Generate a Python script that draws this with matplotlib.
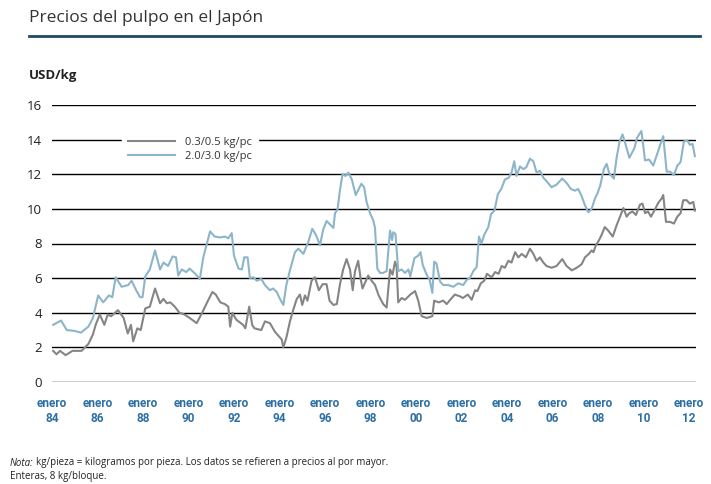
import matplotlib
matplotlib.use("Agg")
import matplotlib.pyplot as plt
from matplotlib.lines import Line2D

plt.rcParams['font.family'] = ['Open Sans', 'DejaVu Sans']

# precios mensuales (año decimal, USD/kg)
small_t = [1984.05, 1984.2, 1984.35, 1984.6, 1984.9, 1985.3, 1985.6, 1985.8, 1985.92, 1986.1,
           1986.3, 1986.45, 1986.6, 1986.9, 1987.15, 1987.33, 1987.47, 1987.57, 1987.75, 1987.9,
           1988.1, 1988.3, 1988.53, 1988.75, 1988.9, 1989.05, 1989.2, 1989.4, 1989.6, 1989.82,
           1990.05, 1990.36, 1990.6, 1990.82, 1991.05, 1991.2, 1991.4, 1991.6, 1991.75, 1991.83,
           1991.93, 1992.1, 1992.4, 1992.5, 1992.67, 1992.8, 1992.9, 1993.2, 1993.36, 1993.58,
           1993.8, 1994.1, 1994.17, 1994.3, 1994.46, 1994.6, 1994.76, 1994.9, 1995.0, 1995.12,
           1995.23, 1995.41, 1995.56, 1995.73, 1995.9, 1996.07, 1996.2, 1996.37, 1996.52, 1996.66,
           1996.8, 1996.95, 1997.1, 1997.22, 1997.32, 1997.46, 1997.57, 1997.65, 1997.9, 1998.05,
           1998.2, 1998.36, 1998.56, 1998.71, 1998.86, 1998.97, 1999.08, 1999.15, 1999.22, 1999.37,
           1999.52, 1999.75, 1999.96, 2000.1, 2000.25, 2000.47, 2000.72, 2000.8, 2001.0, 2001.2,
           2001.35, 2001.57, 2001.71, 2001.93, 2002.06, 2002.28, 2002.45, 2002.6, 2002.7, 2002.85,
           2003.0, 2003.12, 2003.33, 2003.48, 2003.63, 2003.77, 2003.91, 2004.06, 2004.2, 2004.36,
           2004.5, 2004.65, 2004.83, 2005.01, 2005.16, 2005.3, 2005.45, 2005.6, 2005.74, 2005.96,
           2006.18, 2006.43, 2006.62, 2006.85, 2007.07, 2007.28, 2007.43, 2007.6, 2007.72, 2007.8,
           2007.91, 2008.05, 2008.16, 2008.3, 2008.45, 2008.65, 2008.82, 2008.97, 2009.12, 2009.26,
           2009.38, 2009.52, 2009.67, 2009.85, 2009.96, 2010.07, 2010.2, 2010.33, 2010.5, 2010.65,
           2010.8, 2010.87, 2010.99, 2011.17, 2011.34, 2011.49, 2011.63, 2011.75, 2011.9, 2012.04,
           2012.19, 2012.26]
small_v = [1.8, 1.6, 1.8, 1.55, 1.8, 1.8, 2.2, 2.75, 3.3, 3.9,
           3.3, 3.9, 3.8, 4.15, 3.7, 2.8, 3.3, 2.35, 3.1, 3.0,
           4.25, 4.35, 5.4, 4.55, 4.8, 4.55, 4.6, 4.35, 4.0, 3.9,
           3.7, 3.4, 4.0, 4.6, 5.2, 5.05, 4.6, 4.5, 4.35, 3.2,
           4.0, 3.6, 3.3, 3.1, 4.35, 3.3, 3.1, 3.0, 3.5, 3.4,
           2.9, 2.45, 2.0, 2.55, 3.5, 4.15, 4.8, 5.05, 4.45, 5.0,
           4.7, 5.85, 6.05, 5.3, 5.65, 5.65, 4.7, 4.45, 4.5, 5.65,
           6.5, 7.1, 6.5, 5.3, 6.4, 7.0, 5.95, 5.4, 6.15, 5.85,
           5.6, 5.0, 4.5, 4.3, 6.5, 6.2, 6.95, 6.65, 4.6, 4.85,
           4.75, 5.05, 5.25, 4.7, 3.8, 3.7, 3.8, 4.7, 4.6, 4.7,
           4.5, 4.85, 5.05, 4.95, 4.85, 5.05, 4.75, 5.3, 5.25, 5.7,
           5.85, 6.25, 6.05, 6.35, 6.25, 6.7, 6.6, 7.0, 6.9, 7.5,
           7.2, 7.4, 7.2, 7.7, 7.4, 7.0, 7.2, 6.9, 6.7, 6.6,
           6.7, 7.1, 6.7, 6.45, 6.6, 6.8, 7.2, 7.4, 7.6, 7.5,
           7.9, 8.2, 8.5, 8.95, 8.75, 8.4, 9.05, 9.55, 10.05, 9.55,
           9.75, 9.85, 9.65, 10.25, 10.3, 9.75, 9.85, 9.55, 9.95, 10.35,
           10.6, 10.8, 9.25, 9.25, 9.15, 9.55, 9.75, 10.5, 10.5, 10.3,
           10.4, 9.9]

large_t = [1984.05, 1984.4, 1984.65, 1985.0, 1985.27, 1985.6, 1985.8, 1986.03, 1986.25, 1986.5,
           1986.65, 1986.8, 1987.06, 1987.35, 1987.5, 1987.7, 1987.87, 1987.98, 1988.1, 1988.3,
           1988.53, 1988.75, 1988.9, 1989.1, 1989.3, 1989.45, 1989.55, 1989.7, 1989.9, 1990.05,
           1990.3, 1990.5, 1990.65, 1990.95, 1991.15, 1991.4, 1991.6, 1991.75, 1991.9, 1992.0,
           1992.2, 1992.35, 1992.45, 1992.6, 1992.7, 1992.85, 1993.0, 1993.2, 1993.36, 1993.58,
           1993.72, 1993.88, 1994.02, 1994.17, 1994.3, 1994.46, 1994.68, 1994.83, 1995.05, 1995.27,
           1995.44, 1995.6, 1995.78, 1995.92, 1996.07, 1996.22, 1996.37, 1996.44, 1996.55, 1996.66,
           1996.77, 1996.9, 1997.03, 1997.18, 1997.35, 1997.6, 1997.72, 1997.83, 1997.98, 1998.12,
           1998.2, 1998.3, 1998.42, 1998.55, 1998.71, 1998.86, 1998.95, 1999.0, 1999.1, 1999.22,
           1999.37, 1999.52, 1999.67, 1999.75, 1999.93, 2000.1, 2000.2, 2000.3, 2000.47, 2000.6,
           2000.72, 2000.8, 2000.9, 2001.06, 2001.2, 2001.42, 2001.64, 2001.86, 2002.08, 2002.23,
           2002.37, 2002.52, 2002.67, 2002.77, 2002.88, 2003.0, 2003.18, 2003.3, 2003.45, 2003.6,
           2003.75, 2003.91, 2004.08, 2004.2, 2004.32, 2004.42, 2004.57, 2004.72, 2004.85, 2005.01,
           2005.16, 2005.3, 2005.45, 2005.6, 2005.74, 2005.96, 2006.18, 2006.43, 2006.62, 2006.81,
           2006.99, 2007.13, 2007.28, 2007.43, 2007.58, 2007.72, 2007.87, 2007.98, 2008.1, 2008.26,
           2008.38, 2008.5, 2008.7, 2008.82, 2008.95, 2009.08, 2009.22, 2009.38, 2009.6, 2009.72,
           2009.81, 2009.91, 2010.07, 2010.25, 2010.43, 2010.65, 2010.87, 2011.02, 2011.17, 2011.34,
           2011.49, 2011.63, 2011.78, 2011.93, 2012.04, 2012.16, 2012.26]
large_v = [3.3, 3.55, 3.0, 2.95, 2.85, 3.2, 3.7, 5.0, 4.6, 5.0,
           4.9, 6.05, 5.5, 5.6, 5.85, 5.3, 4.9, 4.9, 6.1, 6.5,
           7.6, 6.5, 6.9, 6.7, 7.25, 7.2, 6.15, 6.5, 6.35, 6.55,
           6.25, 5.95, 7.2, 8.7, 8.4, 8.35, 8.4, 8.3, 8.6, 7.3,
           6.55, 6.5, 7.2, 7.2, 6.0, 6.05, 5.85, 5.95, 5.6, 5.3,
           5.4, 5.2, 4.8, 4.45, 5.6, 6.45, 7.5, 7.7, 7.4, 8.1,
           8.85, 8.5, 7.9, 8.8, 9.3, 9.1, 8.9, 9.75, 9.95, 11.1,
           12.0, 11.9, 12.1, 11.7, 10.8, 11.45, 11.25, 10.4, 9.75, 9.35,
           8.9, 6.55, 6.3, 6.3, 6.4, 8.75, 8.2, 8.65, 8.55, 6.4,
           6.5, 6.3, 6.5, 6.1, 7.15, 7.3, 7.5, 6.75, 6.2, 5.9,
           5.15, 6.95, 6.85, 5.8, 5.6, 5.6, 5.5, 5.7, 5.6, 5.9,
           6.0, 6.4, 6.65, 8.4, 8.0, 8.5, 8.95, 9.7, 9.9, 10.85,
           11.15, 11.7, 11.8, 12.1, 12.75, 11.9, 12.45, 12.3, 12.4, 12.9,
           12.75, 12.1, 12.2, 11.8, 11.6, 11.25, 11.4, 11.75, 11.5, 11.15,
           11.05, 11.15, 10.75, 10.2, 9.8, 10.0, 10.6, 10.9, 11.35, 12.3,
           12.6, 12.05, 11.75, 12.95, 13.9, 14.3, 13.7, 12.95, 13.5, 14.1,
           14.3, 14.5, 12.8, 12.85, 12.5, 13.35, 14.2, 12.15, 12.15, 11.95,
           12.5, 12.7, 13.9, 13.95, 13.7, 13.75, 13.05]

tick_years = list(range(1984, 2013, 2))
tick_labels = ["enero\n%02d" % (y % 100) for y in tick_years]
series_labels = ["0.3/0.5 kg/pc", "2.0/3.0 kg/pc"]

W, H = 711, 484
fig = plt.figure(figsize=(W / 100, H / 100), dpi=100)
ax = fig.add_axes([52 / W, (H - 382) / H, (696 - 52) / W, (382 - 105) / H])

ax.plot(small_t, small_v, color="#858585", lw=1.5, label=series_labels[0], zorder=3)
ax.plot(large_t, large_v, color="#8db5c9", lw=1.5, label=series_labels[1], zorder=3)

ax.set_xlim(1984, 2012.31)
ax.set_ylim(0, 16)
ax.set_yticks(range(0, 17, 2))
ax.yaxis.grid(True, color="black", lw=1.0)
ax.set_axisbelow(True)
for s in ax.spines.values():
    s.set_visible(False)
ax.tick_params(axis="y", length=0, pad=7, labelsize=9.5, labelcolor="#222222")
ax.set_xticks(tick_years)
ax.set_xticklabels(tick_labels, fontsize=8.5, fontweight="bold", color="#2c6fa3",
                   linespacing=1.2, family=["Roboto", "DejaVu Sans"])
ax.tick_params(axis="x", length=0, pad=11)

leg = ax.legend(loc="upper left", bbox_to_anchor=(0.1, 0.925), fontsize=8,
                handlelength=4.3, handletextpad=0.9, borderpad=0.5, labelspacing=0.25,
                frameon=True, facecolor="white", edgecolor="white", framealpha=1)
leg.get_frame().set_boxstyle("square", pad=0)
for t in leg.get_texts():
    t.set_color("#333333")

# titulo y subrayado
fig.text(29 / W, 1 - 18 / H, "Precios del pulpo en el Japón", fontsize=12.5,
         color="#333333", va="center", ha="left")
fig.add_artist(Line2D([29 / W, 700 / W], [1 - 36 / H, 1 - 36 / H], color="#1d4d63", lw=2))
fig.text(29 / W, 1 - 76 / H, "USD/kg", fontsize=9.5, fontweight="bold",
         color="#222222", va="center", ha="left")

# nota
t1 = fig.text(10 / W, 1 - 463 / H, "Nota:", fontsize=7, style="italic",
              color="#222222", va="center", ha="left")
ax.annotate("kg/pieza = kilogramos por pieza. Los datos se refieren a precios al por mayor.",
            xy=(1, 0.5), xycoords=t1, xytext=(2, 0), textcoords="offset points",
            va="center", ha="left", fontsize=7, color="#222222", annotation_clip=False)
fig.text(10 / W, 1 - 476 / H, "Enteras, 8 kg/bloque.", fontsize=7,
         color="#222222", va="center", ha="left")

fig.savefig("out.png", dpi=100)
